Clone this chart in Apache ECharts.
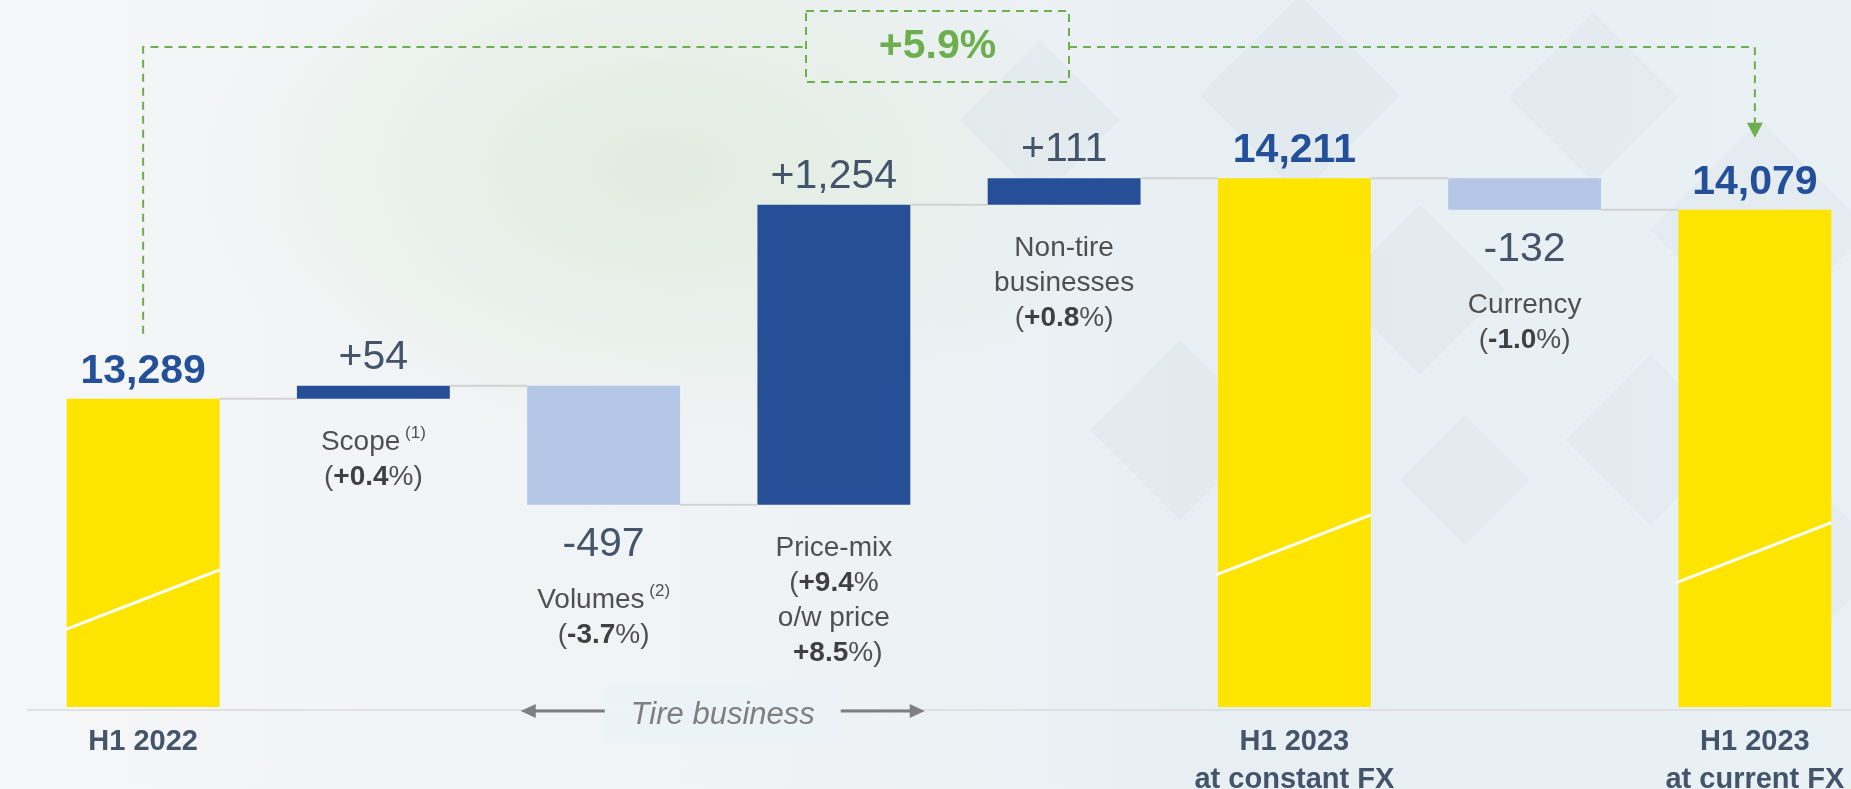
<!DOCTYPE html>
<html>
<head>
<meta charset="utf-8">
<script src="https://cdn.jsdelivr.net/npm/echarts@6/dist/echarts.min.js"></script>
<style>
html, body { margin: 0; padding: 0; }
body {
    width: 1851px; height: 789px; overflow: hidden;
    background:
        radial-gradient(ellipse 460px 280px at 660px 170px, rgba(224,236,222,0.95), rgba(224,236,222,0)),
        linear-gradient(90deg, #f4f6f7 0%, #f0f3f5 40%, #e8eff3 65%, #eaf1f5 100%);
}
#chart { width: 1851px; height: 789px; }
</style>
</head>
<body>
<div id="chart"></div>
<script>
// waterfall data (EUR m)
const categories = ['H1 2022', 'Scope', 'Volumes', 'Price-mix', 'Non-tire businesses', 'H1 2023 at constant FX', 'Currency', 'H1 2023 at current FX'];
const isTotal = [true, false, false, false, false, true, false, true];
const values = [13289, 54, -497, 1254, 111, 14211, -132, 14079];
const axisLabels = ['H1 2022', '', '', '', '', 'H1 2023\nat constant FX', '', 'H1 2023\nat current FX'];
const descNames = ['', 'Scope', 'Volumes', 'Price-mix', 'Non-tire\nbusinesses', '', 'Currency', ''];
const footnotes = ['', '(1)', '(2)', '', '', '', '', ''];
const pctChanges = ['', '+0.4', '-3.7', '+9.4', '+0.8', '', '-1.0', ''];
const pctOfWhichPrice = ['', '', '', '+8.5', '', '', '', ''];
const tireGroup = [2, 3];      // Volumes .. Price-mix
const tireLabel = 'Tire business';

const FONT = '"Liberation Sans", Arial, sans-serif';
const YELLOW = '#FDE500', DARK = '#264F97', LIGHT = '#B4C7E7';
const GREEN = '#6DAE4E';
const Y_MIN = 12000, Y_MAX = 14500;
const BAR_RATIO = 0.664;

// cumulative levels
const bases = [], heights = [], ends = [];
let level = 0;
values.forEach((v, i) => {
    if (isTotal[i]) { bases.push(0); heights.push(v); level = v; }
    else if (v >= 0) { bases.push(level); heights.push(v); level += v; }
    else { bases.push(level + v); heights.push(-v); level += v; }
    ends.push(level);
});

const fmt = n => n.toLocaleString('en-US');

function descText(i) {
    let s = descNames[i].split('\n').map(t => '{d|' + t + '}').join('\n');
    if (footnotes[i]) s += '{s| ' + footnotes[i] + '}';
    s += '\n{d|(}{b|' + pctChanges[i] + '}{d|%' + (pctOfWhichPrice[i] ? '' : ')') + '}';
    if (pctOfWhichPrice[i]) s += '\n{d|o/w price}\n{b| ' + pctOfWhichPrice[i] + '}{d|%)}';
    return s;
}

const rich = {
    d: { fontSize: 28, color: '#505050', lineHeight: 35, fontFamily: FONT },
    b: { fontSize: 28, color: '#404040', fontWeight: 'bold', lineHeight: 35, fontFamily: FONT },
    s: { fontSize: 17, color: '#505050', lineHeight: 24, verticalAlign: 'top', fontFamily: FONT }
};

const chart = echarts.init(document.getElementById('chart'));

const option = {
    animation: false,
    textStyle: { fontFamily: FONT },
    grid: { left: 28, width: 1842, top: 109, bottom: 82, outerBoundsMode: 'none', containLabel: false },
    xAxis: {
        type: 'category',
        data: categories,
        offset: 3,
        axisTick: { show: false },
        axisLine: { lineStyle: { color: '#DADADA', width: 1.5 } },
        axisLabel: {
            interval: 0,
            margin: 13,
            formatter: (val, idx) => axisLabels[idx],
            color: '#44546A',
            fontWeight: 'bold',
            fontSize: 29,
            lineHeight: 38,
            fontFamily: FONT
        }
    },
    yAxis: { type: 'value', min: Y_MIN, max: Y_MAX, show: false },
    series: [
        {
            name: 'base',
            type: 'bar',
            stack: 'w',
            barWidth: (BAR_RATIO * 100) + '%',
            itemStyle: { color: 'transparent' },
            data: bases.map((b, i) => ({
                value: b,
                label: descNames[i] ? {
                    show: true,
                    position: 'insideTop',
                    distance: values[i] >= 0 ? 26 : 78,
                    formatter: descText(i),
                    rich: rich
                } : { show: false }
            }))
        },
        {
            name: 'change',
            type: 'bar',
            stack: 'w',
            barWidth: (BAR_RATIO * 100) + '%',
            data: heights.map((h, i) => {
                const v = values[i];
                return {
                    value: h,
                    itemStyle: { color: isTotal[i] ? YELLOW : (v >= 0 ? DARK : LIGHT) },
                    label: isTotal[i] ? {
                        show: true, position: 'top', distance: 5,
                        formatter: fmt(v), color: '#24509A', fontWeight: 'bold', fontSize: 41, lineHeight: 44
                    } : {
                        show: true, position: v >= 0 ? 'top' : 'bottom', distance: v >= 0 ? 6 : 18,
                        formatter: (v > 0 ? '+' : '') + fmt(v), color: '#44546A', fontSize: 41, lineHeight: 44
                    }
                };
            })
        },
        {
            // connectors between bars
            type: 'custom',
            silent: true,
            z: 3,
            data: ends.slice(0, -1).map((e, i) => [i, e]),
            renderItem(params, api) {
                const i = api.value(0);
                const p1 = api.coord([i, api.value(1)]);
                const p2 = api.coord([i + 1, api.value(1)]);
                const half = api.size([1, 0])[0] * BAR_RATIO / 2;
                return {
                    type: 'line',
                    shape: { x1: p1[0] + half, y1: p1[1], x2: p2[0] - half, y2: p2[1] },
                    style: { stroke: '#D2D2D2', lineWidth: 2 }
                };
            }
        },
        {
            // white stripe on the total bars
            type: 'custom',
            silent: true,
            z: 4,
            data: values.map((v, i) => isTotal[i] ? [i, v] : null).filter(d => d),
            renderItem(params, api) {
                const i = api.value(0);
                const top = api.coord([i, api.value(1)]);
                const bottom = api.coord([i, Y_MIN]);
                const half = api.size([1, 0])[0] * BAR_RATIO / 2;
                const y1 = bottom[1] - 0.25 * (bottom[1] - top[1]);
                return {
                    type: 'line',
                    shape: { x1: top[0] - half - 2, y1: y1, x2: top[0] + half, y2: y1 - 60 },
                    style: { stroke: '#FFFFFF', lineWidth: 3 }
                };
            }
        }
    ]
};

chart.setOption(option);

// annotations placed from the axes
const px = (i, v) => chart.convertToPixel({ gridIndex: 0 }, [i, v]);
const first = px(0, values[0]);
const last = px(values.length - 1, values[values.length - 1]);
const growth = (values[values.length - 1] / values[0] - 1) * 100;
const growthText = (growth >= 0 ? '+' : '') + growth.toFixed(1) + '%';

const lineY = 47, boxL = 806, boxR = 1069, boxT = 11, boxB = 82;
const yA = first[1] - 65, tipB = last[1] - 72;
const dashed = { stroke: GREEN, lineWidth: 2, lineDash: [8, 6], fill: null };

const mid = (px(tireGroup[0], Y_MIN)[0] + px(tireGroup[1], Y_MIN)[0]) / 2 + 4;
const axisY = px(0, Y_MIN)[1] + 4;
const arrowStyle = { stroke: '#7F7F7F', lineWidth: 3, fill: null };

const diamonds = [
    [1593, 97, 85], [1300, 95, 100], [1760, 230, 110], [1420, 290, 85],
    [1465, 480, 65], [1650, 440, 85], [1180, 430, 90], [1040, 120, 80], [1800, 560, 90]
];

chart.setOption({
    graphic: [
        ...diamonds.map(d => ({
            type: 'polygon', z: -10, silent: true,
            shape: { points: [[d[0], d[1] - d[2]], [d[0] + d[2], d[1]], [d[0], d[1] + d[2]], [d[0] - d[2], d[1]]] },
            style: { fill: 'rgba(196,214,226,0.16)' }
        })),
        { type: 'polyline', z: 10, shape: { points: [[first[0], yA], [first[0], lineY], [boxL, lineY]] }, style: dashed },
        { type: 'rect', z: 10, shape: { x: boxL, y: boxT, width: boxR - boxL, height: boxB - boxT }, style: dashed },
        {
            type: 'text', z: 10, x: (boxL + boxR) / 2, y: lineY,
            style: { text: growthText, fill: GREEN, fontSize: 41, fontWeight: 'bold', fontFamily: FONT,
                     align: 'center', verticalAlign: 'middle', textAlign: 'center', textVerticalAlign: 'middle' }
        },
        { type: 'polyline', z: 10, shape: { points: [[boxR, lineY], [last[0], lineY], [last[0], tipB - 14]] }, style: dashed },
        { type: 'polygon', z: 10, shape: { points: [[last[0] - 8, tipB - 15], [last[0] + 8, tipB - 15], [last[0], tipB]] }, style: { fill: GREEN } },

        { type: 'rect', z: 10, shape: { x: mid - 118, y: axisY - 26, width: 236, height: 58 }, style: { fill: 'rgba(236,243,246,0.92)' } },
        { type: 'line', z: 10, shape: { x1: mid - 190, y1: axisY, x2: mid - 118, y2: axisY }, style: arrowStyle },
        { type: 'polygon', z: 10, shape: { points: [[mid - 202, axisY], [mid - 187, axisY - 7], [mid - 187, axisY + 7]] }, style: { fill: '#7F7F7F' } },
        { type: 'line', z: 10, shape: { x1: mid + 118, y1: axisY, x2: mid + 190, y2: axisY }, style: arrowStyle },
        { type: 'polygon', z: 10, shape: { points: [[mid + 202, axisY], [mid + 187, axisY - 7], [mid + 187, axisY + 7]] }, style: { fill: '#7F7F7F' } },
        {
            type: 'text', z: 11, x: mid, y: axisY + 4,
            style: { text: tireLabel, fill: '#7F7F7F', fontSize: 31, fontStyle: 'italic', fontFamily: FONT,
                     align: 'center', verticalAlign: 'middle', textAlign: 'center', textVerticalAlign: 'middle' }
        }
    ]
});
</script>
</body>
</html>
